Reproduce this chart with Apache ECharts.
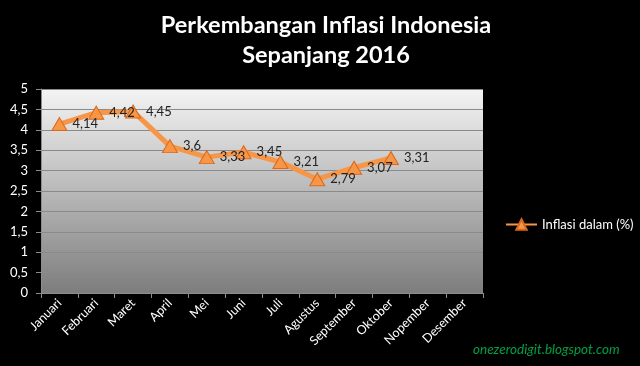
<!DOCTYPE html>
<html>
<head>
<meta charset="utf-8">
<script src="https://cdn.jsdelivr.net/npm/echarts@6/dist/echarts.min.js"></script>
<style>
html,body{margin:0;padding:0;background:#000;}
#c{width:640px;height:366px;}
</style>
</head>
<body>
<div id="c"></div>
<script>
const titleLines = ['Perkembangan Inflasi Indonesia', 'Sepanjang 2016'];
const categories = ['Januari','Februari','Maret','April','Mei','Juni','Juli','Agustus','September','Oktober','Nopember','Desember'];
const inflasi = [4.14, 4.42, 4.45, 3.6, 3.33, 3.45, 3.21, 2.79, 3.07, 3.31, null, null];
const seriesName = 'Inflasi dalam (%)';
const watermark = 'onezerodigit.blogspot.com';
const yMin = 0, yMax = 5, yStep = 0.5;

const fmt = v => String(v).replace('.', ',');
const FONT = 'Lato, "Open Sans", sans-serif';

const chart = echarts.init(document.getElementById('c'), null, {renderer: 'canvas'});
chart.setOption({
  backgroundColor: '#000',
  animation: false,
  textStyle: {fontFamily: FONT},
  title: {
    text: titleLines.join('\n'),
    left: 321, top: 5, textAlign: 'center',
    textStyle: {color: '#fff', fontSize: 23.5, fontWeight: 'bold', lineHeight: 30, fontFamily: FONT}
  },
  legend: {
    data: [seriesName],
    left: 500, top: 213,
    itemWidth: 31, itemHeight: 13,
    textStyle: {color: '#fff', fontSize: 13, fontFamily: FONT}
  },
  grid: {left: 41, top: 89, width: 442, height: 204, show: true, borderWidth: 0,
    backgroundColor: new echarts.graphic.LinearGradient(0, 0, 0, 1, [
      {offset: 0, color: '#f4f4f4'},
      {offset: 1, color: '#7d7d7d'}
    ])},
  xAxis: {
    type: 'category', data: categories, boundaryGap: true,
    axisLine: {lineStyle: {color: '#8c8c8c'}},
    axisTick: {show: true, length: 5, lineStyle: {color: '#8c8c8c'}},
    axisLabel: {color: '#fff', fontSize: 12.5, rotate: 45, interval: 0, margin: 8, fontFamily: FONT}
  },
  yAxis: {
    type: 'value', min: yMin, max: yMax, interval: yStep,
    axisLine: {show: true, lineStyle: {color: '#8c8c8c'}},
    axisTick: {show: true, length: 5, lineStyle: {color: '#8c8c8c'}},
    axisLabel: {color: '#fff', fontSize: 13, margin: 13, formatter: v => fmt(v), fontFamily: FONT},
    splitLine: {lineStyle: {color: '#8a8a8a', width: 1}}
  },
  series: [{
    name: seriesName, type: 'line', data: inflasi,
    symbol: 'triangle', symbolSize: [15, 13],
    lineStyle: {color: '#f79646', width: 5},
    itemStyle: {color: '#f79646', borderColor: '#d9681c', borderWidth: 1},
    label: {show: true, position: 'right', distance: 5, color: '#222', fontSize: 13,
      formatter: p => fmt(p.value), fontFamily: FONT},
    connectNulls: false
  }],
  graphic: [{
    type: 'text', left: 473, top: 343,
    style: {text: watermark, fill: '#00a040', fontSize: 13.5, fontStyle: 'italic', fontFamily: FONT}
  }]
});
</script>
</body>
</html>
